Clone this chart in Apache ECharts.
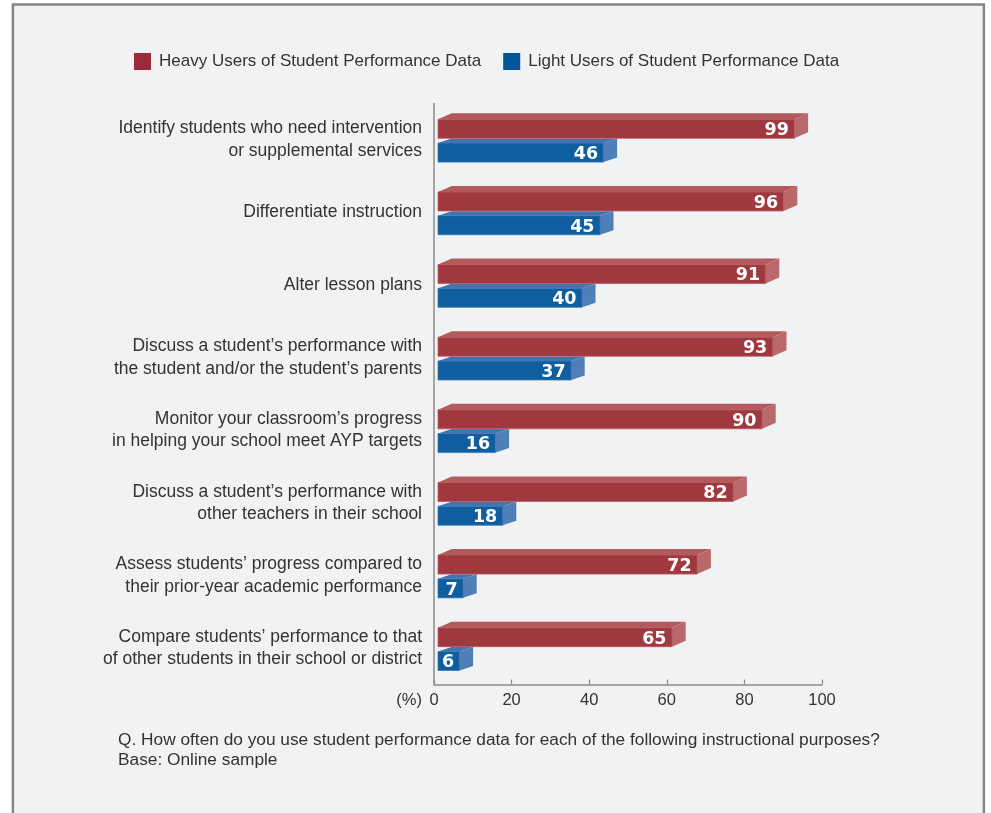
<!DOCTYPE html>
<html><head><meta charset="utf-8">
<script src="https://cdn.jsdelivr.net/npm/echarts@6/dist/echarts.min.js"></script>
<style>html,body{margin:0;padding:0;background:#fff}#c{width:991px;height:813px}</style>
</head><body><div id="c"></div>
<script>
const categories = [
  "Identify students who need intervention\nor supplemental services",
  "Differentiate instruction",
  "Alter lesson plans",
  "Discuss a student\u2019s performance with\nthe student and/or the student\u2019s parents",
  "Monitor your classroom\u2019s progress\nin helping your school meet AYP targets",
  "Discuss a student\u2019s performance with\nother teachers in their school",
  "Assess students\u2019 progress compared to\ntheir prior-year academic performance",
  "Compare students\u2019 performance to that\nof other students in their school or district"
];
const seriesNames = ["Heavy Users of Student Performance Data", "Light Users of Student Performance Data"];
const heavyUsers = [99, 96, 91, 93, 90, 82, 72, 65];
const lightUsers = [46, 45, 40, 37, 16, 18, 7, 6];
const xTicks = [0, 20, 40, 60, 80, 100];
const unitLabel = "(%)";
const noteLines = [
  "Q. How often do you use student performance data for each of the following instructional purposes?",
  "Base: Online sample"
];

const FONT = "'Liberation Sans', Arial, sans-serif";
const TXT = '#333333';
const AXIS = '#8a8a8a';

function bar3D(cfg) {
  return function (params, api) {
    const v = api.value(0), idx = api.value(1);
    const p0 = api.coord([0, idx]);
    const p1 = api.coord([v, idx]);
    const yTop = p0[1] + cfg.off;
    const h = cfg.h, dx = cfg.dx, dy = cfg.dy;
    const x0 = p0[0], x1 = p1[0];
    return {
      type: 'group',
      children: [
        { type: 'polygon', shape: { points: [[x0, yTop], [x0 + dx, yTop - dy], [x1 + dx, yTop - dy], [x1, yTop]] },
          style: { fill: cfg.top } },
        { type: 'polygon', shape: { points: [[x1, yTop], [x1 + dx, yTop - dy], [x1 + dx, yTop - dy + h], [x1, yTop + h]] },
          style: { fill: cfg.side } },
        { type: 'rect', shape: { x: x0, y: yTop, width: x1 - x0, height: h },
          style: { fill: cfg.front, stroke: cfg.edge, lineWidth: 0.8 } },
        { type: 'text', style: { text: String(v), x: x1 - 5.5, y: yTop + h / 2 + 1.8, align: 'right', verticalAlign: 'middle',
          fill: '#ffffff', fontSize: 17.5, fontWeight: 'bold', fontFamily: "'DejaVu Sans', sans-serif" } }
      ]
    };
  };
}

const chart = echarts.init(document.getElementById('c'), null, { renderer: 'canvas' });
chart.setOption({
  backgroundColor: '#ffffff',
  animation: false,
  graphic: [
    { type: 'rect', z: -10, shape: { x: 12.9, y: 4.5, width: 971, height: 900 },
      style: { fill: '#f1f2f4', stroke: '#858585', lineWidth: 2.5 } },
    { type: 'text', style: { text: unitLabel, x: 422, y: 700.5, align: 'right', verticalAlign: 'middle', fill: TXT, fontSize: 16.5, fontFamily: FONT } },
    { type: 'text', style: { text: noteLines[0], x: 118, y: 740.5, align: 'left', verticalAlign: 'middle', fill: TXT, fontSize: 17.3, fontFamily: FONT } },
    { type: 'text', style: { text: noteLines[1], x: 118, y: 760.5, align: 'left', verticalAlign: 'middle', fill: TXT, fontSize: 17.3, fontFamily: FONT } }
  ],
  legend: {
    left: 129, top: 48,
    itemWidth: 17, itemHeight: 17, itemGap: 22,
    icon: 'rect',
    textStyle: { color: TXT, fontSize: 17, fontFamily: FONT, padding: [0, 0, 0, 3] },
    data: [
      { name: seriesNames[0], itemStyle: { color: '#9b2b39' } },
      { name: seriesNames[1], itemStyle: { color: '#00559b' } }
    ]
  },
  grid: [
    { left: 434, top: 103.5, width: 388, height: 581, containLabel: false, outerBoundsMode: 'none' },
    { left: 438, top: 103.5, width: 360, height: 581, containLabel: false, outerBoundsMode: 'none' }
  ],
  xAxis: [
    { type: 'value', gridIndex: 0, min: xTicks[0], max: xTicks[xTicks.length - 1], interval: xTicks[1] - xTicks[0],
      axisLine: { show: true, lineStyle: { color: AXIS, width: 1.5 } },
      axisTick: { show: true, inside: true, length: 5, lineStyle: { color: AXIS, width: 1.2 } },
      axisLabel: { color: TXT, fontSize: 16.5, fontFamily: FONT, margin: 7 },
      splitLine: { show: false } },
    { type: 'value', gridIndex: 1, min: 0, max: 100, show: false, splitLine: { show: false } }
  ],
  yAxis: [
    { type: 'category', gridIndex: 0, data: categories, inverse: true,
      axisLine: { show: true, lineStyle: { color: AXIS, width: 1.5 } },
      axisTick: { show: false },
      axisLabel: { color: TXT, fontSize: 17.5, lineHeight: 22.5, fontFamily: FONT, margin: 12, align: 'right' } },
    { type: 'category', gridIndex: 1, data: categories, inverse: true, show: false }
  ],
  series: [
    { name: seriesNames[1], type: 'custom', xAxisIndex: 1, yAxisIndex: 1,
      itemStyle: { color: '#0f5e9f' },
      encode: { x: 0, y: 1 },
      renderItem: bar3D({ off: 3.3, h: 19, dx: 13.5, dy: 4.5, front: '#0f5e9f', top: '#4474b0', side: '#4f7fb8', edge: '#3f78b4' }),
      data: lightUsers.map((v, i) => [v, i]) },
    { name: seriesNames[0], type: 'custom', xAxisIndex: 1, yAxisIndex: 1,
      itemStyle: { color: '#a0393f' },
      encode: { x: 0, y: 1 },
      renderItem: bar3D({ off: -20.5, h: 19, dx: 13.7, dy: 6, front: '#a0393f', top: '#b25a5c', side: '#ba6869', edge: '#b8585e' }),
      data: heavyUsers.map((v, i) => [v, i]) }
  ]
});
</script>
</body></html>
